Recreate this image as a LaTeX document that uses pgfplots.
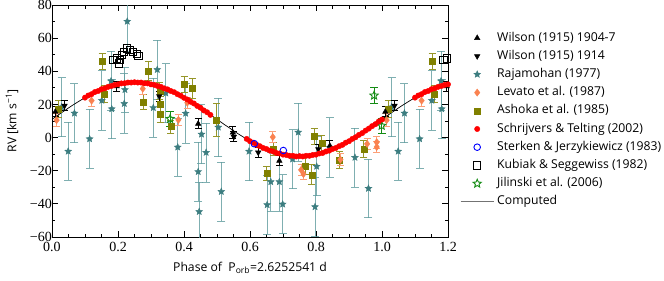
\documentclass[border=0pt]{standalone}
\usepackage{pgfplots}
\pgfplotsset{compat=1.18}
\usepackage{fontspec}
\setmainfont{Liberation Serif}
\newfontfamily\sansf{Open Sans}

\definecolor{rajC}{RGB}{60,125,128}
\definecolor{rajB}{RGB}{95,155,158}
\definecolor{levC}{RGB}{250,130,80}
\definecolor{levB}{RGB}{252,160,120}
\definecolor{ashC}{RGB}{128,128,0}
\definecolor{ashB}{RGB}{150,150,40}
\definecolor{jilC}{RGB}{20,140,20}

\pgfdeclareplotmark{fstar}{%
 \pgfpathmoveto{\pgfpointpolar{90}{\pgfplotmarksize}}%
 \pgfpathlineto{\pgfpointpolar{126}{0.45\pgfplotmarksize}}%
 \pgfpathlineto{\pgfpointpolar{162}{\pgfplotmarksize}}%
 \pgfpathlineto{\pgfpointpolar{198}{0.45\pgfplotmarksize}}%
 \pgfpathlineto{\pgfpointpolar{234}{\pgfplotmarksize}}%
 \pgfpathlineto{\pgfpointpolar{270}{0.45\pgfplotmarksize}}%
 \pgfpathlineto{\pgfpointpolar{306}{\pgfplotmarksize}}%
 \pgfpathlineto{\pgfpointpolar{342}{0.45\pgfplotmarksize}}%
 \pgfpathlineto{\pgfpointpolar{18}{\pgfplotmarksize}}%
 \pgfpathlineto{\pgfpointpolar{54}{0.45\pgfplotmarksize}}%
 \pgfpathclose
 \pgfusepathqfillstroke}
\pgfdeclareplotmark{ostar}{%
 \pgfpathmoveto{\pgfpointpolar{90}{\pgfplotmarksize}}%
 \pgfpathlineto{\pgfpointpolar{126}{0.45\pgfplotmarksize}}%
 \pgfpathlineto{\pgfpointpolar{162}{\pgfplotmarksize}}%
 \pgfpathlineto{\pgfpointpolar{198}{0.45\pgfplotmarksize}}%
 \pgfpathlineto{\pgfpointpolar{234}{\pgfplotmarksize}}%
 \pgfpathlineto{\pgfpointpolar{270}{0.45\pgfplotmarksize}}%
 \pgfpathlineto{\pgfpointpolar{306}{\pgfplotmarksize}}%
 \pgfpathlineto{\pgfpointpolar{342}{0.45\pgfplotmarksize}}%
 \pgfpathlineto{\pgfpointpolar{18}{\pgfplotmarksize}}%
 \pgfpathlineto{\pgfpointpolar{54}{0.45\pgfplotmarksize}}%
 \pgfpathclose
 \pgfusepathqstroke}

\pgfplotsset{
 lgm/.style={only marks, legend image code/.code={\draw[mark repeat=2,mark phase=2,##1] plot coordinates {(0pt,0pt) (16.5pt,0pt) (33pt,0pt)};}},
 lgline/.style={black!55, line width=1pt, legend image code/.code={\draw[##1] (0pt,0pt) -- (33pt,0pt);}},
}

\begin{document}
\begin{tikzpicture}
\useasboundingbox (-52pt,-44pt) rectangle (612pt,237pt);
\begin{axis}[
 scale only axis, width=396pt, height=232pt,
 xmin=0, xmax=1.2, ymin=-60, ymax=80,
 xtick={0,0.2,0.4,0.6,0.8,1.0,1.2}, xticklabels={0.0,0.2,0.4,0.6,0.8,1.0,1.2},
 ytick={-60,-40,-20,0,20,40,60,80}, yticklabels={−60,−40,−20,0,20,40,60,80},
 minor x tick num=3, minor y tick num=1,
 tick align=inside, major tick length=6pt, minor tick length=3.5pt,
 tick style={line width=0.8pt, black},
 axis line style={line width=0.9pt},
 tick label style={font=\fontsize{14}{16}\selectfont},
 yticklabel style={inner xsep=1.5pt, inner ysep=0pt, text depth=0pt, xshift=1.5pt},
 xticklabel style={yshift=-2pt},
 xlabel={Phase of\ \ P\textsubscript{orb}=2.6252541 d},
 ylabel={RV [km s\textsuperscript{−1}]},
 every axis x label/.style={at={(axis description cs:0.5,-0.1336)},anchor=center,font=\sansf\fontsize{12.2}{14}\selectfont},
 every axis y label/.style={at={(axis description cs:-0.101,0.5)},anchor=center,rotate=90,font=\sansf\fontsize{12.2}{14}\selectfont},
 legend cell align=left,
 legend style={at={(axis description cs:1.0303,0.8845)}, anchor=north west, draw=none, fill=none, inner sep=0pt, row sep=6.2pt, column sep=3pt, font=\sansf\fontsize{12.2}{14}\selectfont, nodes={inner sep=0pt, text height=9pt, text depth=3pt}},
]
\addlegendimage{lgm, mark=triangle*, black, mark size=3.2pt}
\addlegendentry{Wilson (1915) 1904-7}
\addlegendimage{lgm, mark=triangle*, mark options={rotate=180}, black, mark size=3.2pt}
\addlegendentry{Wilson (1915) 1914}
\addlegendimage{lgm, mark=fstar, rajC, mark size=3.6pt}
\addlegendentry{Rajamohan (1977)}
\addlegendimage{lgm, mark=diamond*, levC, mark size=3.6pt}
\addlegendentry{Levato et al. (1987)}
\addlegendimage{lgm, mark=square*, ashC, mark size=3pt}
\addlegendentry{Ashoka et al. (1985)}
\addlegendimage{lgm, mark=*, red, mark size=2.7pt}
\addlegendentry{Schrijvers \& Telting (2002)}
\addlegendimage{lgm, mark=o, blue, mark size=3.3pt, line width=0.9pt}
\addlegendentry{Sterken \& Jerzykiewicz (1983)}
\addlegendimage{lgm, mark=square, black, mark size=3.6pt, line width=0.9pt}
\addlegendentry{Kubiak \& Seggewiss (1982)}
\addlegendimage{lgm, mark=ostar, jilC, mark size=4.3pt, line width=0.9pt}
\addlegendentry{Jilinski et al. (2006)}
\addlegendimage{lgline}
\addlegendentry{Computed}

% Rajamohan (1977)
\addplot[forget plot, only marks, mark=fstar, mark size=3.6pt, color=rajC,
 error bars/.cd, y dir=both, y explicit,
 error bar style={rajB, opacity=0.8, line width=0.9pt},
 error mark options={rajB, rotate=90, mark size=4pt, line width=0.9pt}]
 table[x=x,y=y,y error=e] {
x y e
0.029 18.4 17.8
0.049 -8.3 17.6
0.068 14.7 17.7
0.114 -0.8 17.8
0.151 22.4 18.0
0.179 34.1 18.0
0.181 17.3 18.0
0.219 20.5 18.0
0.221 28.9 13.5
0.228 70.1 18.0
0.307 18.0 17.8
0.319 41.0 17.8
0.345 26.8 17.8
0.381 -5.8 17.6
0.405 14.6 18.0
0.443 -20.6 17.8
0.446 -44.7 17.8
0.453 2.0 17.8
0.467 -9.0 17.8
0.504 6.2 17.7
0.513 -32.6 17.8
0.597 -8.3 17.7
0.652 -40.6 17.8
0.663 -26.7 17.8
0.689 -26.7 17.8
0.699 -40.2 17.8
0.729 -13.0 17.8
0.746 3.2 17.5
0.797 -41.8 17.8
0.802 -17.4 17.8
0.842 -5.9 18.0
0.918 -12.0 17.8
0.959 -30.7 17.8
1.029 18.4 17.8
1.049 -8.3 17.6
1.068 14.7 17.7
1.114 -0.8 17.8
1.151 22.4 18.0
1.179 34.1 18.0
1.181 17.3 18.0
};

% Ashoka et al. (1985)
\addplot[forget plot, only marks, mark=square*, mark size=3pt, color=ashC,
 error bars/.cd, y dir=both, y explicit,
 error bar style={ashB, line width=0.9pt},
 error mark options={ashB, rotate=90, mark size=3.5pt, line width=0.9pt}]
 table[x=x,y=y,y error=e] {
x y e
0.019 17.3 5
0.152 46.0 5
0.158 26.4 5
0.277 21.4 4.5
0.293 40.2 6
0.327 28.0 5
0.329 20.0 5
0.329 13.9 5
0.360 6.6 4
0.400 32.1 5
0.426 29.5 6
0.499 10.7 10
0.651 -21.6 4
0.670 -6.9 4
0.767 -17.0 5
0.787 -22.5 6
0.794 0.6 5
0.818 -3.5 5
0.871 -13.6 5
0.945 -6.9 5
1.019 17.3 5
1.152 46.0 5
1.158 26.4 5
};

% Levato et al. (1987)
\addplot[forget plot, only marks, mark=diamond*, mark size=3.6pt, color=levC,
 error bars/.cd, y dir=both, y explicit,
 error bar style={levB, line width=0.9pt},
 error mark options={levB, rotate=90, mark size=3.5pt, line width=0.9pt}]
 table[x=x,y=y,y error=e] {
x y e
0.014 10.5 4
0.120 22.3 3.5
0.275 29.5 3.5
0.383 10.7 3.5
0.410 21.0 3.5
0.669 0.3 3.5
0.755 -19.5 3.5
0.762 -22.0 3.5
0.874 -13.3 3.5
0.955 -3.8 3.5
0.984 -2.8 3.5
0.984 -5.7 3.5
1.014 10.5 4
1.120 22.3 3.5
};

% Jilinski et al. (2006)
\addplot[forget plot, only marks, mark=ostar, mark size=4.3pt, color=jilC, line width=0.9pt,
 error bars/.cd, y dir=both, y explicit,
 error bar style={jilC, line width=0.9pt},
 error mark options={jilC, rotate=90, mark size=4pt, line width=0.9pt}]
 table[x=x,y=y,y error=e] {
x y e
0.358 11.3 4.3
0.976 25.4 4.6
0.999 7.2 4.6
};

% Wilson (1915) 1904-7
\addplot[forget plot, only marks, mark=triangle*, mark size=3.2pt, color=black,
 error bars/.cd, y dir=both, y explicit,
 error bar style={black, line width=0.9pt},
 error mark options={black, rotate=90, mark size=3.5pt, line width=0.9pt}]
 table[x=x,y=y,y error=e] {
x y e
0.010 15.5 3
0.196 30.9 3
0.443 8.3 3
0.548 3.0 3.5
0.689 -14.0 3
0.842 -5.0 3
1.010 15.5 3
1.196 30.9 3
};

% Wilson (1915) 1914
\addplot[forget plot, only marks, mark=triangle*, mark options={rotate=180}, mark size=3.2pt, color=black,
 error bars/.cd, y dir=both, y explicit,
 error bar style={black, line width=0.9pt},
 error mark options={black, rotate=90, mark size=3.5pt, line width=0.9pt}]
 table[x=x,y=y,y error=e] {
x y e
0.038 19.2 3
0.325 25.0 3
0.551 0.5 3
0.625 -9.0 3
0.807 -7.0 3
1.038 19.2 3
};

% Kubiak & Seggewiss (1982)
\addplot[forget plot, only marks, mark=square, mark size=3.6pt, color=black, line width=0.9pt]
 table[x=x,y=y] {
x y
0.186 46.7
0.196 47.7
0.204 44.7
0.206 46.7
0.211 49.7
0.218 51.7
0.226 53.8
0.236 52.7
0.246 51.7
0.257 50.7
0.262 49.3
1.186 46.7
1.196 47.7
};

% Schrijvers & Telting (2002)
\addplot[forget plot, only marks, mark=*, mark size=2.7pt, color=red]
 table[x=x,y=y] {
x y
0.10 24.1
0.11 25.4
0.12 26.2
0.13 27.5
0.14 28.1
0.15 29.2
0.16 29.7
0.17 30.6
0.18 31.1
0.19 31.8
0.20 32.1
0.21 32.7
0.22 32.8
0.23 33.2
0.24 33.2
0.25 33.4
0.26 33.2
0.27 33.2
0.28 32.8
0.29 32.7
0.30 32.1
0.31 31.8
0.32 31.1
0.33 30.6
0.34 29.7
0.35 29.1
0.36 28.1
0.37 27.4
0.38 26.2
0.39 25.3
0.40 24.0
0.41 23.0
0.42 21.6
0.43 20.6
0.44 19.1
0.45 18.0
0.46 16.4
0.47 15.3
0.48 13.7
0.59 -0.8
0.60 -2.2
0.61 -3.1
0.62 -4.4
0.63 -5.2
0.64 -6.3
0.65 -6.9
0.66 -7.9
0.67 -8.4
0.68 -9.3
0.69 -9.6
0.70 -10.3
0.71 -10.5
0.72 -11.0
0.73 -11.0
0.74 -11.4
0.75 -11.2
0.76 -11.4
0.77 -11.0
0.78 -11.0
0.79 -10.5
0.80 -10.3
0.81 -9.6
0.82 -9.3
0.83 -8.4
0.84 -7.9
0.85 -6.9
0.86 -6.3
0.87 -5.2
0.88 -4.4
0.89 -3.1
0.90 -2.2
0.91 -0.8
0.92 0.2
0.93 1.6
0.94 2.7
0.95 4.2
0.96 5.4
0.97 6.9
0.98 8.1
0.99 9.7
1.00 10.9
1.10 24.1
1.11 25.4
1.12 26.2
1.13 27.5
1.14 28.1
1.15 29.2
1.16 29.7
1.17 30.6
1.18 31.1
1.19 31.8
1.20 32.1
};

% Computed
\addplot[forget plot, black, line width=0.7pt, smooth] coordinates {
(0.00,11.0) (0.02,13.8) (0.04,16.5) (0.06,19.2) (0.08,21.7) (0.10,24.1)
(0.12,26.3) (0.14,28.2) (0.16,29.8) (0.18,31.2) (0.20,32.2) (0.22,32.9)
(0.24,33.3) (0.26,33.3) (0.28,32.9) (0.30,32.2) (0.32,31.2) (0.34,29.8)
(0.36,28.2) (0.38,26.3) (0.40,24.1) (0.42,21.7) (0.44,19.2) (0.46,16.5)
(0.48,13.8) (0.50,11.0) (0.52,8.2) (0.54,5.5) (0.56,2.8) (0.58,0.3)
(0.60,-2.1) (0.62,-4.3) (0.64,-6.2) (0.66,-7.8) (0.68,-9.2) (0.70,-10.2)
(0.72,-10.9) (0.74,-11.3) (0.76,-11.3) (0.78,-10.9) (0.80,-10.2) (0.82,-9.2)
(0.84,-7.8) (0.86,-6.2) (0.88,-4.3) (0.90,-2.1) (0.92,0.3) (0.94,2.8)
(0.96,5.5) (0.98,8.2) (1.00,11.0) (1.02,13.8) (1.04,16.5) (1.06,19.2)
(1.08,21.7) (1.10,24.1) (1.12,26.3) (1.14,28.2) (1.16,29.8) (1.18,31.2)
(1.20,32.2)
};

% Sterken & Jerzykiewicz (1983)
\addplot[forget plot, only marks, mark=o, mark size=3.3pt, color=blue, line width=0.9pt]
 table[x=x,y=y] {
x y
0.613 -3.7
0.701 -7.8
};
\end{axis}
\end{tikzpicture}
\end{document}
